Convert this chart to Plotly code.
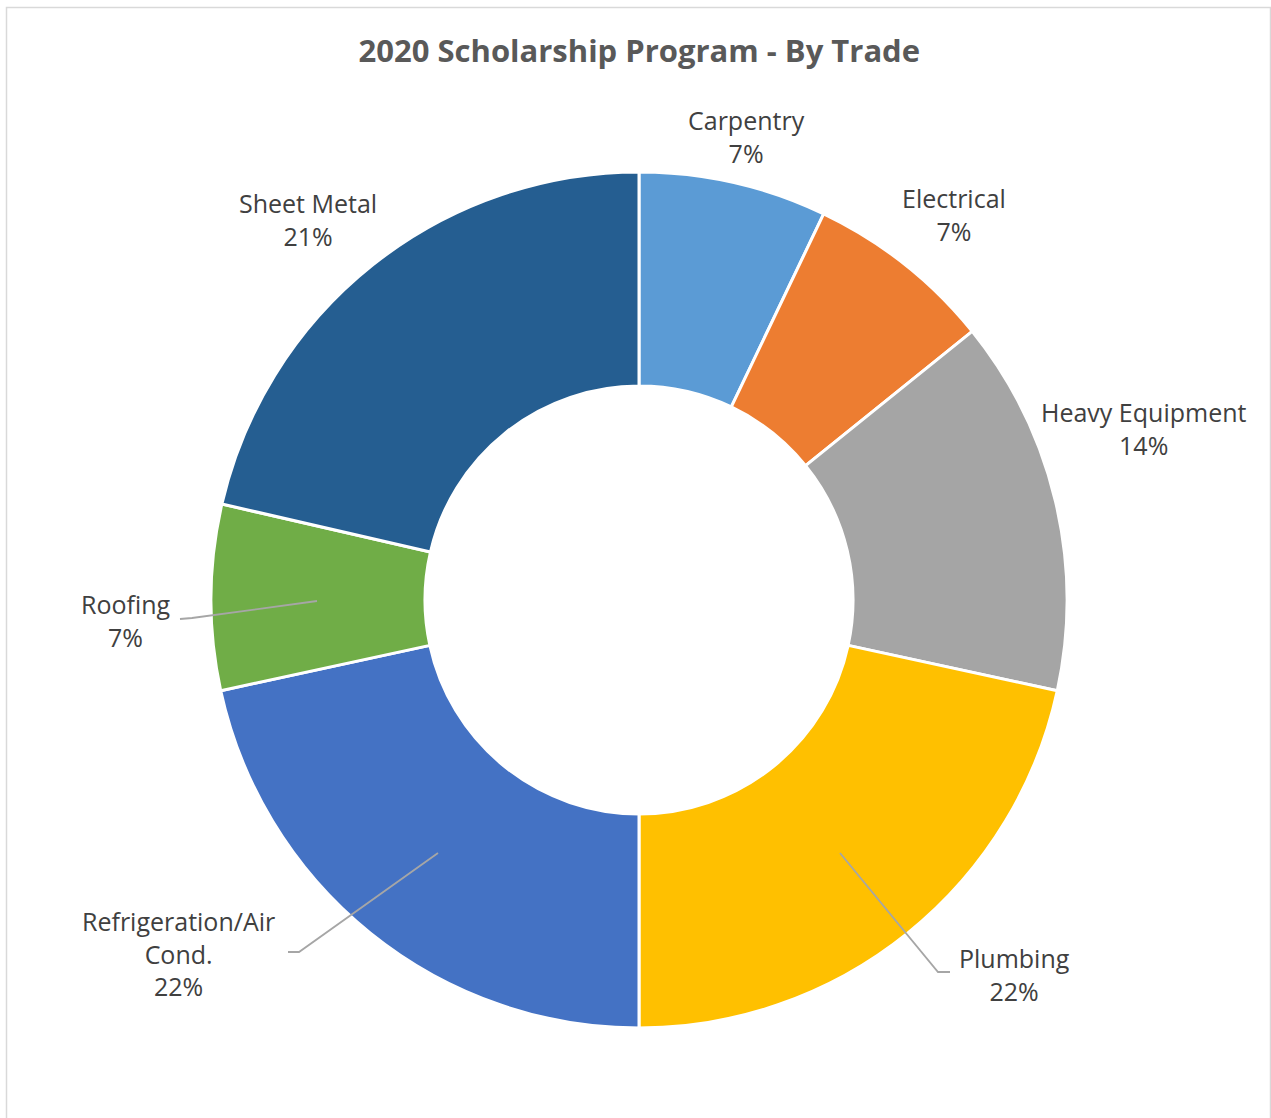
import plotly.graph_objects as go

# data
trades = ["Carpentry", "Electrical", "Heavy Equipment", "Plumbing",
          "Refrigeration/Air<br>Cond.", "Roofing", "Sheet Metal"]
shares = [7.1, 7.1, 14.2, 21.6, 21.6, 7.0, 21.4]
colors = ["#5B9BD5", "#ED7D31", "#A5A5A5", "#FFC000", "#4472C4", "#70AD47", "#255E91"]

W, H = 1271, 1118

def px(x, y):
    # pixel -> paper coords
    return x / W, 1 - y / H

# label centres (pixels) and leader lines
label_pos = [(746, 136), (954, 215), (1144, 428), (1014, 974),
             (178, 953), (126, 620), (308, 220)]
leaders = {
    3: [(840, 853), (938, 972), (950, 972)],
    4: [(438, 853), (299, 952), (288, 952)],
    5: [(317, 601), (192, 618), (180, 619)],
}

cx, cy, r = 639, 600, 428
x0, _ = px(cx - 500, 0)
x1, _ = px(cx + 500, 0)
_, y1 = px(0, cy - r)
_, y0 = px(0, cy + r)

fig = go.Figure(go.Pie(
    labels=trades, values=shares, sort=False, direction="clockwise",
    hole=0.5, textinfo="none", hoverinfo="label+percent",
    marker=dict(colors=colors, line=dict(color="white", width=3)),
    domain=dict(x=[x0, x1], y=[y0, y1]), showlegend=False,
))

total = sum(shares)
for i, (name, v) in enumerate(zip(trades, shares)):
    ax, ay = px(*label_pos[i])
    fig.add_annotation(
        x=ax, y=ay, xref="paper", yref="paper", showarrow=False,
        text=f"{name}<br>{round(v / total * 100)}%",
        font=dict(family="Open Sans", size=25, color="#404040"),
        xanchor="center", yanchor="middle",
    )

for pts in leaders.values():
    path = ""
    for j, (x, y) in enumerate(pts):
        a, b = px(x, y)
        path += ("M" if j == 0 else " L") + f"{a},{b}"
    fig.add_shape(type="path", path=path, xref="paper", yref="paper",
                  line=dict(color="#A6A6A6", width=1.8))

# chart border (bottom edge falls off the page)
bx0, by0 = px(6.5, 7.5)
bx1, by1 = px(1270.5, 1130)
fig.add_shape(type="rect", x0=bx0, y0=by0, x1=bx1, y1=by1, xref="paper", yref="paper",
              line=dict(color="#D9D9D9", width=1.5), layer="below")

fig.update_layout(
    width=W, height=H,
    margin=dict(l=0, r=0, t=0, b=0),
    paper_bgcolor="white", plot_bgcolor="white",
    title=dict(text="<b>2020 Scholarship Program - By Trade</b>",
               x=0.503, xanchor="center", y=1 - 51 / H, yanchor="middle",
               font=dict(family="Open Sans", size=31, color="#595959")),
)

fig.write_html("out.html", config={"displayModeBar": False},
               post_script="document.body.style.margin='0';")
